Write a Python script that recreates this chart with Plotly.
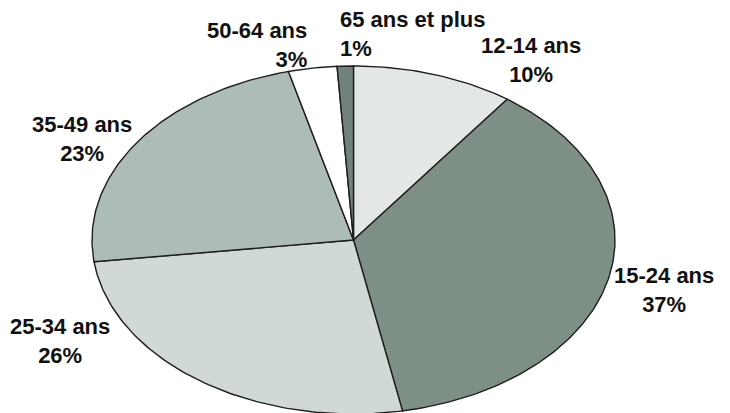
import numpy as np
import plotly.graph_objects as go

# Data (clockwise from the top)
categories = ["12-14 ans", "15-24 ans", "25-34 ans", "35-49 ans", "50-64 ans", "65 ans et plus"]
percent = [10, 37, 26, 23, 3, 1]
colors = ["#E4E8E4", "#7E8F86", "#D0D9D4", "#ADBCB5", "#FFFFFF", "#708279"]

# Label placement: (x, y, horizontal anchor/alignment) in pixels
label_pos = [
    (531, 60, "center"),
    (663.5, 289.5, "center"),
    (60, 341, "center"),
    (82, 139, "center"),
    (308.5, 45, "right"),
    (337.5, 34, "left"),
]

W, H = 730, 413
cx, cy, rx, ry = 353.5, 240.0, 261.5, 174.0

fig = go.Figure()
total = sum(percent)
start = 0.0
for cat, p, col in zip(categories, percent, colors):
    a0 = start / total * 2 * np.pi
    a1 = (start + p) / total * 2 * np.pi
    start += p
    t = np.linspace(a0, a1, max(int(p * 4), 6))
    xs = np.concatenate([[cx], cx + rx * np.sin(t), [cx]])
    ys = np.concatenate([[cy], cy - ry * np.cos(t), [cy]])
    fig.add_trace(go.Scatter(
        x=xs, y=ys, mode="lines", fill="toself", fillcolor=col,
        line=dict(color="#1e1e1e", width=1.4), name=cat,
        hoverinfo="name", showlegend=False,
    ))

font = dict(family="Liberation Sans, Arial, sans-serif", size=22, color="#111111")
for cat, p, (lx, ly, al) in zip(categories, percent, label_pos):
    fig.add_annotation(x=lx, y=ly, text=f"<b>{cat}</b><br><b>{p}%</b>", showarrow=False,
                       xanchor=al, yanchor="middle", align=al, font=font)

fig.update_layout(
    width=W, height=H,
    margin=dict(l=0, r=0, t=0, b=0),
    paper_bgcolor="white", plot_bgcolor="white",
    xaxis=dict(range=[0, W], visible=False, fixedrange=True),
    yaxis=dict(range=[H, 0], visible=False, fixedrange=True),
    showlegend=False,
)
fig.write_html("out.html", config={"displayModeBar": False},
               post_script="document.body.style.margin='0';document.body.style.overflow='hidden';")
